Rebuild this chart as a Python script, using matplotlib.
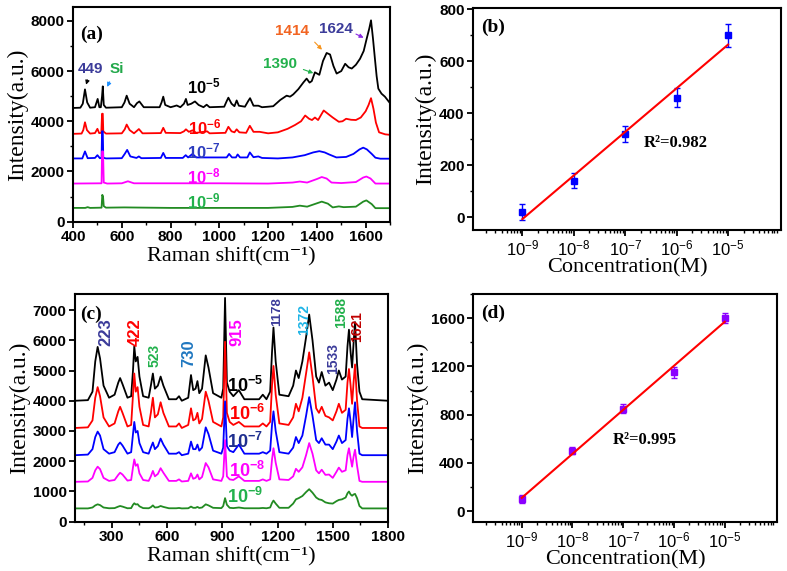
import numpy as np
import matplotlib
matplotlib.use("Agg")
import matplotlib.pyplot as plt
from matplotlib.ticker import MultipleLocator, FixedLocator, FixedFormatter, LogLocator, NullFormatter

plt.rcParams['font.family'] = ['Liberation Sans', 'DejaVu Sans']
plt.rcParams['font.weight'] = 'bold'
plt.rcParams['mathtext.fontset'] = 'custom'
plt.rcParams['mathtext.rm'] = 'Liberation Sans'
plt.rcParams['mathtext.bf'] = 'Liberation Sans:bold'
plt.rcParams['mathtext.sf'] = 'Liberation Sans'
plt.rcParams['mathtext.it'] = 'Liberation Sans:italic'

SERIF = ['Liberation Serif', 'DejaVu Serif']
COLORS = ['#000000', '#FF0000', '#0000FF', '#FF00FF', '#228B22']
conc_labels = ['10$^{-5}$', '10$^{-6}$', '10$^{-7}$', '10$^{-8}$', '10$^{-9}$']

# ---- panel (a): spectra as (shift, intensity) points
a_1e5 = [(400, 4530), (430, 4540), (440, 4700), (449, 5270), (458, 4750), (470, 4540), (490, 4560),
         (501, 4890), (508, 4560), (514, 4560), (519, 5000), (522, 5390), (526, 4650), (535, 4540),
         (600, 4560), (611, 4750), (620, 5020), (632, 4700), (650, 4560), (662, 4720), (672, 4790),
         (690, 4560), (755, 4560), (763, 4750), (770, 4980), (778, 4650), (800, 4560), (815, 4600),
         (825, 4630), (840, 4560), (855, 4700), (863, 4890), (870, 4650), (885, 4700), (900, 4790),
         (915, 4650), (935, 4560), (948, 4660), (960, 4560), (1020, 4580), (1030, 4800), (1037, 4940),
         (1050, 4700), (1062, 4600), (1071, 4830), (1080, 4620), (1105, 4580), (1118, 4800),
         (1126, 4920), (1140, 4620), (1160, 4620), (1175, 4560), (1200, 4580), (1221, 4600),
         (1250, 4850), (1276, 5020), (1290, 4980), (1303, 5070), (1324, 5280), (1345, 5550),
         (1358, 5700), (1370, 5540), (1379, 5600), (1392, 5950), (1399, 5910), (1410, 5850),
         (1425, 6400), (1440, 6720), (1454, 6660), (1468, 6200), (1481, 5900), (1500, 6000),
         (1516, 6290), (1530, 6150), (1543, 6100), (1560, 6250), (1577, 6490), (1592, 6800),
         (1604, 7280), (1615, 7700), (1622, 8020), (1630, 7300), (1638, 6490), (1645, 5800),
         (1652, 5300), (1665, 5100), (1679, 4980), (1700, 4720)]
a_1e6 = [(400, 3500), (435, 3510), (442, 3650), (449, 3960), (457, 3650), (470, 3510), (490, 3530),
         (500, 3700), (507, 3530), (516, 3540), (519, 4300), (522, 4300), (524, 3600), (535, 3510),
         (600, 3520), (612, 3680), (620, 3870), (632, 3650), (650, 3520), (662, 3620), (670, 3690),
         (685, 3520), (760, 3530), (770, 3740), (780, 3540), (840, 3530), (855, 3600), (863, 3680),
         (875, 3580), (890, 3640), (905, 3540), (950, 3600), (960, 3520), (1025, 3540), (1037, 3780),
         (1050, 3600), (1062, 3560), (1071, 3680), (1082, 3560), (1110, 3540), (1125, 3820),
         (1140, 3580), (1165, 3580), (1200, 3520), (1240, 3560), (1280, 3700), (1310, 3850),
         (1335, 4000), (1352, 4230), (1368, 4100), (1380, 4050), (1392, 4150), (1405, 4050),
         (1420, 4300), (1428, 4430), (1445, 4300), (1465, 4150), (1490, 3980), (1505, 4000),
         (1520, 4100), (1540, 4060), (1560, 4050), (1580, 4150), (1600, 4400), (1612, 4650),
         (1622, 4920), (1632, 4500), (1642, 3950), (1655, 3560), (1680, 3480), (1700, 3460)]
a_1e7 = [(400, 2520), (438, 2520), (449, 2800), (460, 2530), (490, 2540), (500, 2650), (510, 2530),
         (517, 2540), (519, 3600), (522, 3600), (524, 2550), (535, 2520), (600, 2530), (612, 2700),
         (622, 2860), (635, 2600), (660, 2540), (670, 2600), (680, 2530), (760, 2540), (770, 2740),
         (780, 2540), (850, 2540), (862, 2650), (872, 2560), (890, 2700), (905, 2560), (1030, 2560),
         (1040, 2700), (1052, 2560), (1068, 2560), (1075, 2680), (1085, 2560), (1115, 2560),
         (1125, 2760), (1140, 2570), (1160, 2600), (1175, 2540), (1240, 2520), (1300, 2560),
         (1350, 2650), (1385, 2760), (1410, 2810), (1432, 2760), (1450, 2680), (1480, 2560),
         (1520, 2580), (1550, 2700), (1575, 2880), (1590, 2950), (1605, 2880), (1625, 2700),
         (1640, 2550), (1660, 2510), (1700, 2510)]
a_1e8 = [(400, 1520), (517, 1530), (519, 2800), (523, 2800), (526, 1560), (540, 1520), (600, 1530),
         (625, 1610), (650, 1530), (1000, 1530), (1200, 1520), (1300, 1560), (1330, 1600),
         (1360, 1560), (1400, 1700), (1420, 1780), (1440, 1720), (1460, 1560), (1500, 1540),
         (1560, 1580), (1590, 1760), (1603, 1800), (1620, 1720), (1640, 1520), (1700, 1520)]
a_1e9 = [(400, 550), (450, 550), (460, 580), (470, 550), (517, 560), (520, 1070), (523, 1000),
         (526, 620), (535, 560), (610, 570), (800, 550), (1200, 550), (1300, 590), (1330, 640),
         (1360, 600), (1390, 700), (1420, 800), (1445, 720), (1465, 570), (1490, 610), (1510, 580),
         (1560, 600), (1590, 800), (1603, 850), (1625, 700), (1640, 540), (1700, 540)]

# ---- panel (c): spectra on a shared shift grid
c_shift = [100, 170, 195, 210, 223, 236, 255, 285, 315, 335,
           345, 358, 385, 405, 415, 422, 430, 440, 450, 470,
           500, 512, 523, 534, 550, 565, 580, 610, 650, 665,
           680, 715, 730, 742, 755, 765, 775, 790, 810, 825,
           850, 895, 905, 915, 925, 940, 960, 990, 1020, 1100,
           1120, 1140, 1160, 1170, 1178, 1190, 1210, 1260, 1285, 1300,
           1315, 1335, 1355, 1372, 1390, 1410, 1425, 1440, 1460, 1480,
           1500, 1520, 1533, 1550, 1570, 1580, 1588, 1597, 1605, 1613,
           1621, 1632, 1645, 1660, 1800]
c_1e5 = [4000, 4020, 4300, 5300, 5780, 5400, 4500, 4100, 4200, 4600,
         4750, 4550, 4100, 4150, 5000, 5800, 5300, 5450, 4800, 4150,
         4100, 4500, 4900, 4400, 4500, 4800, 4500, 4050, 4050, 4150,
         4000, 4100, 4850, 4350, 4400, 4650, 4250, 4400, 5500, 5100,
         4250, 4100, 4400, 7400, 4600, 4300, 4150, 4350, 4050, 4050,
         4200, 4050, 4300, 5600, 6420, 5300, 4200, 4150, 4500, 5000,
         4750, 5300, 6100, 6850, 6000, 4800, 4600, 4950, 4500, 4600,
         4350, 4700, 5000, 4700, 4800, 5800, 6350, 5600, 5100, 5900,
         6600, 5200, 4300, 4050, 4000]
c_1e6 = [3100, 3120, 3350, 4100, 4450, 4150, 3450, 3150, 3250, 3650,
         3800, 3600, 3150, 3200, 4200, 4900, 4300, 4450, 3800, 3200,
         3150, 3600, 4100, 3450, 3550, 3950, 3600, 3150, 3150, 3250,
         3100, 3200, 3750, 3350, 3400, 3600, 3250, 3400, 4300, 4000,
         3300, 3150, 3450, 5950, 3600, 3300, 3200, 3300, 3150, 3150,
         3250, 3150, 3300, 4500, 5150, 4200, 3250, 3200, 3450, 3900,
         3650, 4100, 4900, 5600, 4800, 3750, 3600, 3800, 3500, 3450,
         3350, 3650, 3900, 3600, 3700, 4600, 5050, 4500, 3900, 4600,
         5200, 4000, 3150, 3100, 3100]
c_1e7 = [2200, 2220, 2400, 2800, 2980, 2850, 2400, 2250, 2300, 2550,
         2620, 2520, 2250, 2300, 2900, 3300, 2950, 3000, 2600, 2300,
         2250, 2450, 2620, 2400, 2500, 2750, 2550, 2250, 2250, 2300,
         2200, 2250, 2650, 2400, 2400, 2550, 2350, 2450, 3120, 2900,
         2350, 2250, 2450, 3980, 2500, 2350, 2300, 2550, 2250, 2250,
         2300, 2250, 2350, 3200, 3650, 3000, 2300, 2250, 2450, 2800,
         2600, 2850, 3500, 4120, 3500, 2700, 2600, 2760, 2550, 2550,
         2400, 2650, 2850, 2600, 2700, 3400, 3750, 3300, 2800, 3400,
         3950, 3000, 2250, 2200, 2200]
c_1e8 = [1320, 1330, 1450, 1700, 1820, 1740, 1450, 1350, 1380, 1550,
         1620, 1560, 1360, 1380, 1800, 2060, 1850, 1900, 1600, 1380,
         1350, 1500, 1680, 1500, 1580, 1770, 1620, 1350, 1350, 1400,
         1330, 1350, 1600, 1420, 1450, 1560, 1400, 1480, 1940, 1800,
         1400, 1350, 1500, 2700, 1500, 1400, 1380, 1500, 1350, 1350,
         1400, 1350, 1400, 2050, 2430, 1950, 1400, 1380, 1500, 1750,
         1650, 1800, 2200, 2600, 2250, 1700, 1600, 1720, 1550, 1560,
         1450, 1650, 1790, 1650, 1700, 2200, 2430, 2100, 1820, 2150,
         2380, 1850, 1350, 1320, 1320]
c_1e9 = [440, 440, 470, 540, 575, 550, 470, 445, 450, 500,
         520, 500, 445, 450, 560, 610, 570, 580, 510, 450,
         445, 480, 540, 470, 480, 520, 490, 445, 445, 455,
         440, 445, 500, 460, 460, 490, 455, 470, 575, 540,
         460, 450, 520, 780, 560, 460, 450, 470, 445, 445,
         455, 445, 470, 620, 700, 600, 460, 460, 600, 740,
         780, 850, 980, 1075, 960, 800, 740, 720, 640, 610,
         600, 680, 720, 740, 800, 940, 1000, 900, 860, 900,
         920, 780, 520, 440, 440]

# ---- panels (b), (d): calibration points
conc = [1e-9, 1e-8, 1e-7, 1e-6, 1e-5]
b_int = [20, 140, 320, 460, 700]
b_err = [30, 30, 30, 35, 45]
d_int = [100, 500, 850, 1150, 1600]
d_err = [30, 30, 40, 45, 40]

# peak labels
a_peaks = [  # text, text xy, arrow tail, arrow tip, text color, arrow color
    ('449', (472, 6100), (463, 5750), (450, 5350), '#3C3C9A', '#000000'),
    ('Si', (579, 6100), (555, 5670), (535, 5270), '#22A84A', '#1E90FF'),
    ('1414', (1298, 7600), (1383, 7230), (1429, 6770), '#F26522', '#F7941D'),
    ('1390', (1248, 6300), (1334, 6100), (1396, 5880), '#22B14C', '#22B14C'),
    ('1624', (1479, 7660), (1550, 7520), (1602, 7280), '#3C3C9A', '#8A2BE2'),
]
a_conc_pos = [(937, 5370), (941, 3750), (934, 2790), (937, 1790), (937, 790)]
a_conc_col = ['#000000', '#FF0000', '#2E3DBE', '#FF00FF', '#22B14C']

c_peaks = [  # text, x, y, color, size
    ('223', 268, 6260, '#3C3C9A', 12), ('422', 426, 6280, '#FF0000', 12),
    ('523', 531, 5490, '#22B14C', 10), ('730', 718, 5570, '#1F77C0', 12),
    ('915', 978, 6260, '#FF00FF', 12), ('1178', 1196, 6945, '#3C3C9A', 9.5),
    ('1372', 1345, 6670, '#1EB4E6', 10), ('1533', 1504, 5400, '#3C3C9A', 10),
    ('1588', 1548, 6920, '#22B14C', 10), ('1621', 1635, 6450, '#C00000', 10),
]
c_conc_pos = [(1023, 4490), (1032, 3560), (1023, 2640), (1032, 1680), (1023, 815)]
c_conc_col = ['#000000', '#FF0000', '#1F2F8F', '#FF00FF', '#22B14C']


def style(ax, xbold=True):
    for s in ax.spines.values():
        s.set_linewidth(1.5)
    ax.tick_params(which='major', direction='out', length=4, width=1.3, labelsize=11, pad=2)
    ax.tick_params(which='minor', direction='out', length=2.5, width=1)
    labs = ax.get_yticklabels() + (ax.get_xticklabels() if xbold else [])
    for t in labs:
        t.set_fontweight('bold')
        t.set_family(['Liberation Sans'])


fig = plt.figure(figsize=(7.87, 5.71), dpi=100)
axa = fig.add_axes([0.0928, 0.6117, 0.4028, 0.3760])
axb = fig.add_axes([0.6010, 0.5972, 0.3914, 0.3888])
axc = fig.add_axes([0.0953, 0.0863, 0.3977, 0.3983])
axd = fig.add_axes([0.6010, 0.0858, 0.3863, 0.3993])

# (a)
for pts, col in zip([a_1e5, a_1e6, a_1e7, a_1e8, a_1e9], COLORS):
    xs, ys = zip(*pts)
    axa.plot(xs, ys, color=col, lw=1.3)
axa.set_xlim(400, 1700)
axa.set_ylim(0, 8550)
axa.xaxis.set_major_locator(MultipleLocator(200))
axa.xaxis.set_minor_locator(MultipleLocator(100))
axa.yaxis.set_major_locator(MultipleLocator(2000))
axa.yaxis.set_minor_locator(MultipleLocator(1000))
for txt, tpos, tail, tip, tc, ac in a_peaks:
    axa.text(tpos[0], tpos[1], txt, color=tc, fontsize=11, ha='center', va='center')
    axa.annotate('', xy=tip, xytext=tail,
                 arrowprops=dict(arrowstyle='-|>', color=ac, lw=0.8, mutation_scale=6))
for lab, pos, col in zip(conc_labels, a_conc_pos, a_conc_col):
    axa.text(pos[0], pos[1], r'$\mathbf{' + lab.replace('$', '') + '}$', color=col,
             fontsize=12, ha='center', va='center')
axa.text(0.022, 0.874, '(a)', transform=axa.transAxes, family=SERIF, fontsize=14,
         fontweight='bold', va='center')
axa.set_xlabel('Raman shift(cm⁻¹)', family=SERIF, fontweight='normal', fontsize=16, labelpad=2)
axa.set_ylabel('Intensity(a.u.)', family=SERIF, fontweight='normal', fontsize=17, labelpad=2)
style(axa)

# (c)
for ys, col in zip([c_1e5, c_1e6, c_1e7, c_1e8, c_1e9], COLORS):
    axc.plot(c_shift, ys, color=col, lw=1.3)
axc.set_xlim(100, 1800)
axc.set_ylim(0, 7520)
axc.xaxis.set_major_locator(MultipleLocator(300))
axc.xaxis.set_minor_locator(MultipleLocator(150))
axc.yaxis.set_major_locator(MultipleLocator(1000))
for txt, x, y, col, fs in c_peaks:
    axc.text(x, y, txt, color=col, fontsize=fs, rotation=90, ha='center', va='center')
for lab, pos, col in zip(conc_labels, c_conc_pos, c_conc_col):
    axc.text(pos[0], pos[1], r'$\mathbf{' + lab.replace('$', '') + '}$', color=col,
             fontsize=13, ha='center', va='center')
axc.text(0.017, 0.91, '(c)', transform=axc.transAxes, family=SERIF, fontsize=14,
         fontweight='bold', va='center')
axc.set_xlabel('Raman shift(cm⁻¹)', family=SERIF, fontweight='normal', fontsize=16, labelpad=2)
axc.set_ylabel('Intensity(a.u.)', family=SERIF, fontweight='normal', fontsize=17, labelpad=2)
style(axc)


def calib(ax, vals, errs, mcol, ylim, major, minor, r2, r2pos, tag):
    logc = np.log10(conc)
    k, b = np.polyfit(logc, vals, 1)
    ax.errorbar(conc, vals, yerr=errs, fmt='s', color=mcol, ms=5, capsize=2,
                elinewidth=1, capthick=1, zorder=2)
    ax.plot([conc[0], conc[-1]], [k * logc[0] + b, k * logc[-1] + b], color='#FF0000',
            lw=1.5, zorder=3)
    ax.set_xscale('log')
    ax.set_xlim(10 ** -9.96, 10 ** -3.97)
    ax.set_ylim(*ylim)
    ax.xaxis.set_major_locator(FixedLocator(conc))
    ax.xaxis.set_major_formatter(FixedFormatter([r'$\mathregular{10^{%d}}$' % e for e in range(-9, -4)]))
    ax.xaxis.set_minor_locator(LogLocator(base=10, subs=np.arange(2, 10), numticks=20))
    ax.xaxis.set_minor_formatter(NullFormatter())
    ax.yaxis.set_major_locator(MultipleLocator(major))
    ax.yaxis.set_minor_locator(MultipleLocator(minor))
    style(ax, xbold=False)
    ax.tick_params(axis='x', labelsize=12)
    for t in ax.get_xticklabels():
        t.set_fontweight('normal')
    ax.text(r2pos[0], r2pos[1], r2, family=SERIF, fontsize=12, fontweight='bold',
            ha='left', va='center')
    ax.text(0.026, 0.915, tag, transform=ax.transAxes, family=SERIF, fontsize=14,
            fontweight='bold', va='center')
    ax.set_xlabel('Concentration(M)', family=SERIF, fontweight='normal', fontsize=16, labelpad=0)
    ax.set_ylabel('Intensity(a.u.)', family=SERIF, fontweight='normal', fontsize=17, labelpad=2)


calib(axb, b_int, b_err, '#0000FF', (-50, 805), 200, 100, 'R²=0.982', (10 ** -6.645, 286), '(b)')
calib(axd, d_int, d_err, '#8B00FF', (-90, 1800), 400, 200, 'R²=0.995', (10 ** -7.21, 590), '(d)')

fig.savefig('out.png', dpi=100)
